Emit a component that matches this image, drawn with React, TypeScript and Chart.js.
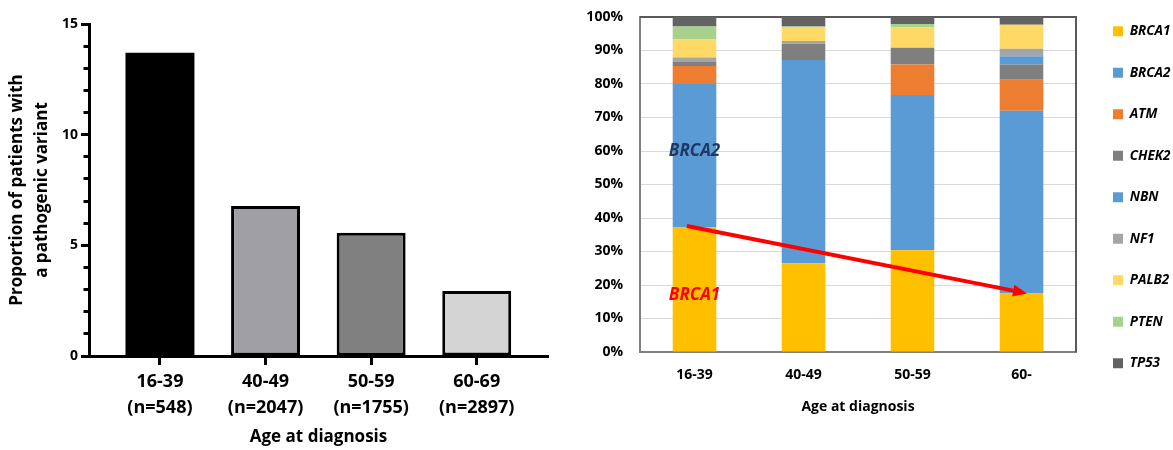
import React, { useEffect, useRef } from "react";
import { Chart, registerables } from "chart.js";

Chart.register(...registerables);
Chart.defaults.font.family = "'Open Sans', 'DejaVu Sans', sans-serif";

// ---------- Left chart data ----------
const leftCategories = ["16-39", "40-49", "50-59", "60-69"];
const leftCounts = ["(n=548)", "(n=2047)", "(n=1755)", "(n=2897)"];
const leftValues = [13.7, 6.78, 5.57, 2.94];
const leftColors = ["#000000", "#a0a0a4", "#808080", "#d4d4d4"];
const leftBorderWidths = [0, 3, 3, 3];
const leftMajorTicks = [0, 5, 10, 15];
const leftMinorTicks = [1, 2, 3, 4, 6, 7, 8, 9, 11, 12, 13, 14];

// ---------- Right chart data ----------
const rightCategories = ["16-39", "40-49", "50-59", "60-"];
const genes = ["BRCA1", "BRCA2", "ATM", "CHEK2", "NBN", "NF1", "PALB2", "PTEN", "TP53"];
const geneColors = ["#ffc000", "#5b9bd5", "#ed7d31", "#7f7f7f", "#5b9bd5", "#a5a5a5", "#ffd966", "#a9d18e", "#636363"];
const brca1 = [37.3, 26.5, 30.4, 17.5];
const brca2 = [42.7, 60.7, 46.3, 54.5];
const atm = [5.4, 0, 9.1, 9.3];
const chek2 = [1.3, 4.8, 5.0, 4.5];
const nbn = [0, 0, 0, 2.5];
const nf1 = [1.2, 0.8, 0, 2.2];
const palb2 = [5.4, 4.2, 6.1, 7.2];
const pten = [3.9, 0.2, 1.0, 0];
const tp53 = [2.8, 2.8, 2.1, 2.3];
const geneValues = [brca1, brca2, atm, chek2, nbn, nf1, palb2, pten, tp53];
const rightYTickStep = 10;

// annotations: text labels and the trend arrow (category index, percent)
const annotTexts = ["BRCA2", "BRCA1"];
const annotIndex = [0, 0];
const annotValue = [60.1, 17.0];
const annotColors = ["#1f3864", "#ff0000"];
const arrowFrom = [-0.07, 37.6];
const arrowTo = [3.05, 17.5];

const LEGEND_WIDTH = 97;

const rightDecor = {
  id: "rightDecor",
  beforeLayout(chart: any) {
    const l = chart.legend;
    if (l && !l._fixedWidth) {
      const orig = l.fit.bind(l);
      l.fit = () => {
        orig();
        l.width = LEGEND_WIDTH;
      };
      l._fixedWidth = true;
    }
  },
  afterLayout(chart: any) {
    const l = chart.legend;
    if (l) {
      const dx = 9;
      const dy = -20.5;
      l.left += dx;
      l.right += dx;
      l.top += dy;
      l.bottom += dy;
    }
  },
  beforeDatasetsDraw(chart: any) {
    const { ctx, chartArea } = chart;
    ctx.save();
    ctx.strokeStyle = "#595959";
    ctx.lineWidth = 2;
    ctx.beginPath();
    ctx.moveTo(chartArea.left, chartArea.top);
    ctx.lineTo(chartArea.right, chartArea.top);
    ctx.lineTo(chartArea.right, chartArea.bottom);
    ctx.stroke();
    ctx.restore();
  },
  afterDatasetsDraw(chart: any) {
    const { ctx } = chart;
    const xs = chart.scales.x;
    const ys = chart.scales.y;
    ctx.save();
    ctx.font = "italic bold 17px 'Open Sans'";
    ctx.textAlign = "center";
    ctx.textBaseline = "middle";
    annotTexts.forEach((t, i) => {
      ctx.fillStyle = annotColors[i];
      ctx.fillText(t, xs.getPixelForValue(annotIndex[i]), ys.getPixelForValue(annotValue[i]));
    });
    const x0 = xs.getPixelForValue(arrowFrom[0]);
    const y0 = ys.getPixelForValue(arrowFrom[1]);
    const x1 = xs.getPixelForValue(arrowTo[0]);
    const y1 = ys.getPixelForValue(arrowTo[1]);
    const ang = Math.atan2(y1 - y0, x1 - x0);
    const headLen = 14;
    const headW = 6;
    const c = Math.cos(ang);
    const s = Math.sin(ang);
    const bx = x1 - headLen * c;
    const by = y1 - headLen * s;
    ctx.strokeStyle = "#ff0000";
    ctx.fillStyle = "#ff0000";
    ctx.lineWidth = 4;
    ctx.beginPath();
    ctx.moveTo(x0, y0);
    ctx.lineTo(bx, by);
    ctx.stroke();
    ctx.beginPath();
    ctx.moveTo(x1, y1);
    ctx.lineTo(bx + headW * s, by - headW * c);
    ctx.lineTo(bx - headW * s, by + headW * c);
    ctx.closePath();
    ctx.fill();
    ctx.restore();
  },
};

function LeftChart() {
  const ref = useRef<HTMLCanvasElement>(null);
  useEffect(() => {
    const chart = new Chart(ref.current as HTMLCanvasElement, {
      type: "bar",
      data: {
        datasets: [
          {
            data: leftValues.map((v, i) => ({ x: i, y: v })),
            backgroundColor: leftColors,
            borderColor: "#000000",
            borderWidth: leftBorderWidths,
            borderSkipped: false,
            barPercentage: 0.653,
            categoryPercentage: 1,
          } as any,
        ],
      },
      options: {
        animation: false,
        responsive: false,
        layout: { padding: { top: 24, right: 12, bottom: 0, left: 0 } },
        plugins: { legend: { display: false }, tooltip: { enabled: false } },
        scales: {
          x: {
            type: "linear",
            offset: false,
            min: -0.672,
            max: 3.675,
            afterBuildTicks: (s: any) => {
              s.ticks = leftCategories.map((_, i) => ({ value: i }));
            },
            ticks: {
              callback: (v: any) => [leftCategories[v], leftCounts[v]],
              font: { size: 18, weight: "bold", lineHeight: 1.45 },
              color: "#000",
              padding: 4,
              maxRotation: 0,
              autoSkip: false,
            },
            grid: { offset: false, drawOnChartArea: false, tickLength: 9, tickWidth: 3, tickColor: "#000" },
            border: { color: "#000", width: 3 },
            title: {
              display: true,
              text: "Age at diagnosis",
              font: { size: 17, weight: "bold" },
              color: "#000",
              padding: { top: 0, bottom: 3 },
            },
            afterFit: (s: any) => {
              s.height = 94;
            },
          },
          y: {
            type: "linear",
            position: "left",
            weight: 1,
            min: 0,
            max: 15,
            afterBuildTicks: (s: any) => {
              s.ticks = leftMajorTicks.map((v) => ({ value: v }));
            },
            ticks: { font: { size: 14, weight: "bold" }, color: "#000", padding: 3 },
            grid: { drawOnChartArea: false, tickLength: 8, tickWidth: 3, tickColor: "#000" },
            border: { color: "#000", width: 3 },
            title: {
              display: true,
              text: ["Proportion of patients with", "a pathogenic variant"],
              font: { size: 17, weight: "bold", lineHeight: 1.5 },
              color: "#000",
              padding: { top: 4, bottom: 0 },
            },
            afterFit: (s: any) => {
              s.width = 89;
            },
          },
          yMinor: {
            type: "linear",
            position: "left",
            weight: 0,
            min: 0,
            max: 15,
            afterBuildTicks: (s: any) => {
              s.ticks = leftMinorTicks.map((v) => ({ value: v }));
            },
            ticks: { display: false },
            grid: { drawOnChartArea: false, tickLength: 5.5, tickWidth: 3, tickColor: "#000" },
            border: { display: false },
            afterFit: (s: any) => {
              s.width = 0;
            },
          },
        },
      } as any,
    });
    return () => chart.destroy();
  }, []);
  return (
    <canvas
      ref={ref}
      width={560}
      height={450}
      style={{ position: "absolute", left: 0, top: 0, width: 560, height: 450 }}
    />
  );
}

function RightChart() {
  const ref = useRef<HTMLCanvasElement>(null);
  useEffect(() => {
    const chart = new Chart(ref.current as HTMLCanvasElement, {
      type: "bar",
      data: {
        labels: rightCategories,
        datasets: genes.map((g, i) => ({
          label: g,
          data: geneValues[i],
          backgroundColor: geneColors[i],
          borderWidth: 0,
          barPercentage: 0.4,
          categoryPercentage: 1,
        })),
      },
      options: {
        animation: false,
        responsive: false,
        layout: { padding: { top: 17, right: 0, bottom: 0, left: 0 } },
        plugins: {
          tooltip: { enabled: false },
          legend: {
            position: "right",
            align: "start",
            labels: {
              boxWidth: 10,
              boxHeight: 10,
              padding: 28,
              color: "#000",
              font: { size: 13.5, weight: "bold", style: "italic" },
            },
          },
        },
        scales: {
          x: {
            stacked: true,
            grid: { drawOnChartArea: false, drawTicks: false },
            border: { color: "#808080", width: 2 },
            ticks: { font: { size: 14, weight: "bold" }, color: "#000", padding: 15 },
            title: {
              display: true,
              text: "Age at diagnosis",
              font: { size: 14, weight: "bold" },
              color: "#000",
              padding: { top: 0, bottom: 35 },
            },
            afterFit: (s: any) => {
              s.height = 98;
            },
          },
          y: {
            stacked: true,
            min: 0,
            max: 100,
            ticks: {
              stepSize: rightYTickStep,
              callback: (v: any) => v + "%",
              font: { size: 14, weight: "bold" },
              color: "#000",
              padding: 17,
            },
            grid: { color: "#d9d9d9", drawTicks: false, lineWidth: 1 },
            border: { color: "#808080", width: 2 },
            afterFit: (s: any) => {
              s.width = 65;
              s.paddingTop = 0;
              s.paddingBottom = 0;
            },
          },
        },
      } as any,
      plugins: [rightDecor],
    });
    return () => chart.destroy();
  }, []);
  return (
    <canvas
      ref={ref}
      width={598}
      height={450}
      style={{ position: "absolute", left: 575, top: 0, width: 598, height: 450 }}
    />
  );
}

export default function App() {
  return (
    <div
      style={{
        position: "absolute",
        left: 0,
        top: 0,
        width: 1173,
        height: 450,
        background: "#ffffff",
        overflow: "hidden",
      }}
    >
      <LeftChart />
      <RightChart />
    </div>
  );
}
